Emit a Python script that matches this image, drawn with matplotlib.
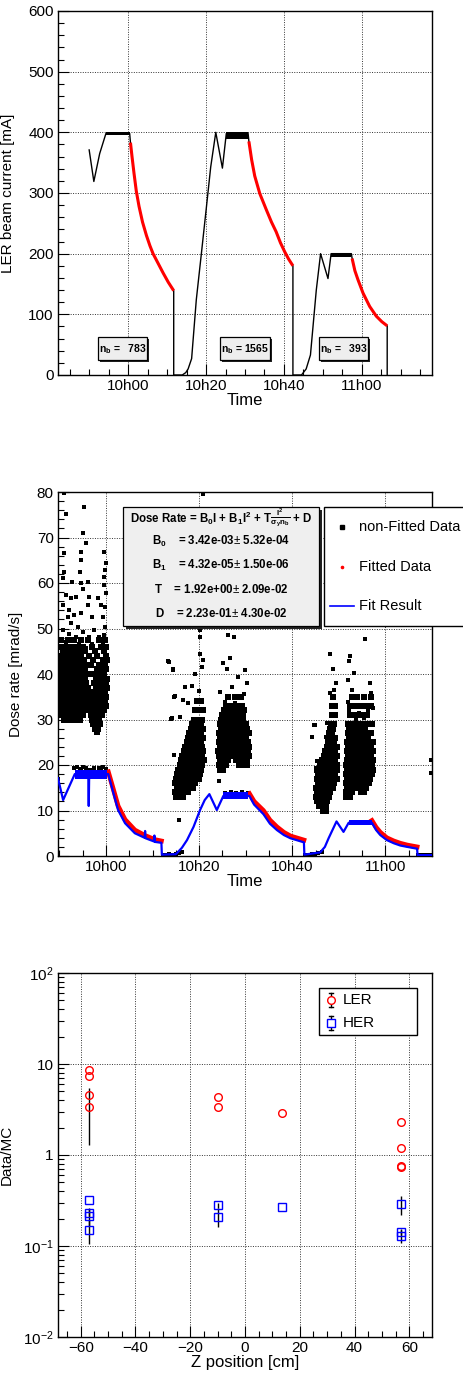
import math
import matplotlib
matplotlib.use("Agg")
import matplotlib.pyplot as plt
from matplotlib.patches import Rectangle
from matplotlib.lines import Line2D
from matplotlib.ticker import MultipleLocator, FixedLocator, LogLocator, NullFormatter, FuncFormatter

plt.rcParams['font.family'] = ['Liberation Sans', 'DejaVu Sans']
plt.rcParams['mathtext.fontset'] = 'custom'
plt.rcParams['mathtext.rm'] = 'Liberation Sans'
plt.rcParams['mathtext.it'] = 'Liberation Sans:italic'
plt.rcParams['mathtext.bf'] = 'Liberation Sans:bold'

W, H = 464, 1375

# time axis: minutes after 10h00
time_ticks = [0, 20, 40, 60]
time_labels = ['10h00', '10h20', '10h40', '11h00']

# ---- panel 1 : LER beam current [mA] ----
rise1_t = [-10.0, -8.8, -7.3, -5.7, 0.4]
rise1_i = [371, 319, 365, 398, 398]
dec1_t = [0.6, 1.0, 1.5, 2.1, 2.8, 3.7, 4.7, 5.6, 6.4, 7.7, 9.0, 10.3, 11.7]
dec1_i = [383, 360, 333, 303, 278, 252, 230, 213, 200, 184, 168, 153, 139]
rise2_t = [11.7, 13.9, 14.8, 15.4, 16.3, 17.5, 18.8, 20.1, 21.2, 22.5, 24.2, 25.2, 30.8]
rise2_i = [0, 0, 4, 10, 27, 124, 200, 277, 343, 400, 341, 398, 398]
dec2_t = [31.0, 31.7, 32.5, 33.8, 35.5, 36.8, 38.0, 39.1, 40.2, 41.2, 42.3]
dec2_i = [385, 355, 328, 299, 272, 252, 236, 218, 203, 191, 180]
rise3_t = [42.3, 44.5, 45.7, 46.8, 48.3, 49.4, 51.3, 52.1, 57.3]
rise3_i = [0, 0, 10, 33, 140, 200, 159, 200, 200]
dec3_t = [57.5, 58.2, 59.0, 60.3, 62.0, 63.7, 65.1, 66.5]
dec3_i = [192, 172, 157, 135, 113, 97, 88, 81]
end_t = [66.5, 66.5]
end_i = [81, 0]
# injection plateaus (noise band low / high)
plateau_t0 = [-5.7, 25.2, 52.1]
plateau_t1 = [0.4, 30.8, 57.3]
plateau_lo = [395, 389, 194]
plateau_hi = [400, 400, 200]
nb_labels = ['783', '1565', '393']

# ---- panel 2 : dose rate [mrad/s] ----
fit_t = [-10.3, -9.2, -6.7, -3.8, -3.7, -3.6, 0.5, 1.6, 2.6, 4.1, 6.2, 8.3, 8.4, 8.5,
         10.3, 10.4, 10.5, 11.9, 12.0, 15.0, 15.2, 16.3, 17.4, 18.8, 20.2, 21.2, 22.2,
         23.8, 25.2, 30.8, 31.8, 33.8, 35.2, 36.7, 38.2, 39.6, 42.5, 42.6, 46.0, 47.0,
         47.8, 49.5, 51.0, 52.1, 57.1, 58.0, 58.9, 60.3, 61.8, 63.2, 64.7, 66.8, 66.9, 70.0]
fit_v = [17.1, 12.3, 18.0, 18.0, 11.0, 18.0, 18.0, 13.8, 10.1, 7.2, 5.0, 4.0, 5.5, 3.9,
         3.2, 4.5, 3.1, 2.9, 0.3, 0.4, 0.6, 1.8, 3.5, 6.4, 10.1, 12.3, 13.6,
         10.1, 13.2, 13.2, 11.3, 9.2, 7.1, 5.7, 4.6, 3.9, 3.0, 0.3, 0.8, 2.0,
         3.9, 7.6, 5.3, 7.3, 7.3, 5.7, 4.6, 3.5, 2.8, 2.3, 2.0, 1.6, 0.2, 0.2]
fit_band_t0 = [-6.7, 25.2, 52.1]
fit_band_t1 = [0.3, 30.6, 57.1]
fit_band_lo = [16.9, 12.5, 6.8]
fit_band_hi = [18.8, 14.0, 7.9]
fitted1_t = [0.5, 1.6, 2.6, 4.1, 6.2, 8.4, 10.5, 11.9]
fitted1_v = [18.5, 14.6, 11.0, 8.0, 5.7, 4.5, 3.6, 3.3]
fitted2_t = [30.8, 31.8, 33.8, 35.2, 36.7, 38.2, 39.6, 42.5]
fitted2_v = [13.7, 12.0, 10.0, 7.9, 6.4, 5.2, 4.4, 3.5]
fitted3_t = [57.1, 58.0, 58.9, 60.3, 61.8, 63.2, 64.7, 66.8]
fitted3_v = [7.8, 6.3, 5.2, 4.0, 3.3, 2.8, 2.4, 2.0]

# sparse non-fitted points
nonfit_t = [
    -9.0, -4.7, -8.6, -5.0, -4.3, -5.3, -0.4, -9.0, -5.3, -0.1, -0.2, -5.6, -9.0, -0.4,
    -9.3, -7.2, -5.4, -3.9, -0.4, -8.6, -7.5, -6.5, -5.0, -3.6, -3.9, -1.8, -1.1, -0.1,
    -0.2, -9.3, -8.0, -8.2, -6.8, -5.4, -2.9, -0.7, -0.2, -7.5, -6.1,
    -9.3, -8.0, -6.5, -5.0, -3.6, -2.5, -1.4, -0.4, -8.6, -7.2, -5.8, -4.3, -2.9, -0.7,
    -10.3, -6.9, -6.3, -5.6, -5.0, -4.2, -3.5, -2.6, -1.5, -0.7, 0.1, -1.1, -5.3,
    12.2, 12.9, 13.6, 14.3, 15.0, 15.7, 16.3, 42.8, 43.5, 44.2, 44.9, 45.6, 46.3,
    67.0, 67.7, 68.4, 69.1, 69.8,
    20.2, 20.1, 20.2, 20.8, 20.6, 13.6, 14.3, 19.1, 17.0, 18.4, 19.9, 14.8, 16.6, 17.6,
    14.1, 15.9, 14.5, 13.4, 14.3, 14.5, 13.9, 20.8, 15.6, 24.2,
    26.3, 27.4, 25.2, 26.7, 25.9, 29.9, 30.2, 28.4, 27.0, 24.5, 29.6, 25.6, 27.8,
    25.6, 26.8, 28.0, 29.3, 30.4,
    48.7, 48.2, 49.3, 48.9, 48.1, 47.5, 44.8, 44.3, 47.2, 45.3, 45.1, 44.6, 48.8, 51.8,
    55.7, 52.3, 52.2, 53.3, 51.9, 56.6, 52.9, 57.0, 53.3, 51.9, 54.8, 57.3, 56.3, 52.2,
    54.4, 53.7, 55.5, 51.9, 51.5,
    69.7, 69.7,
]
nonfit_v = [
    79.8, 76.7, 75.2, 70.9, 68.9, 66.9, 66.9, 66.5, 65.0, 64.3, 62.9, 62.5, 62.5, 61.3,
    61.0, 60.3, 60.1, 60.3, 59.5, 57.4, 56.6, 56.9, 58.6, 57.0, 55.2, 56.6, 55.2, 57.7,
    54.8, 55.2, 54.1, 52.6, 53.0, 53.3, 52.6, 52.6, 50.4, 51.1, 50.4,
    49.7, 48.9, 48.2, 49.3, 48.2, 49.7, 48.2, 48.5, 47.1, 46.0, 46.7, 45.7, 46.7, 46.4,
    17.0, 19.3, 19.5, 19.2, 19.6, 19.4, 19.0, 19.3, 19.4, 19.6, 19.2, 18.9, 18.9,
    0.3, 0.2, 0.4, 0.3, 0.5, 0.6, 0.8, 0.2, 0.3, 0.4, 0.5, 0.6, 0.8,
    0.2, 0.2, 0.3, 0.2, 0.3,
    49.7, 48.2, 44.5, 43.0, 41.6, 42.6, 41.2, 40.0, 37.1, 37.4, 36.3, 35.1, 34.3, 33.6,
    30.3, 30.6, 22.3, 42.9, 40.9, 35.0, 30.2, 79.6, 7.9, 16.4,
    48.6, 48.2, 42.4, 43.5, 41.2, 40.9, 38.0, 39.4, 37.1, 36.0, 35.6, 33.9, 33.6,
    13.9, 14.0, 13.8, 14.0, 13.9,
    41.2, 44.3, 38.0, 36.5, 35.8, 29.2, 28.8, 26.1, 26.2, 20.8, 19.4, 28.8, 41.0, 12.7,
    47.7, 44.0, 42.9, 40.2, 38.7, 38.0, 36.5, 35.8, 34.7, 33.9, 33.2, 32.5, 31.8, 31.8,
    31.4, 29.9, 30.3, 12.8, 15.0,
    21.0, 18.2,
]

# dense non-fitted regions, read row by row (dose value, times of the points on that row)
run1_rows_v = [47.5, 46.0, 45.0, 44.0, 43.0, 42.0, 41.0, 40.0, 39.0, 38.0, 37.0, 36.0,
               35.0, 34.0, 33.0, 32.0, 31.0, 30.0, 29.0, 28.0, 27.3]
run1_rows_t = [
    [-9.6, -8.2, -6.9, -5.3, -3.8, -1.5, -0.2],
    [-9.9, -8.9, -7.6, -6.2, -4.9, -3.1, -1.0, 0.1],
    [-9.3, -8.4, -7.1, -5.8, -4.4, -2.4, -0.5],
    [-9.7, -8.8, -7.8, -6.5, -5.4, -3.6, -1.9, -0.1],
    [-10.0, -9.1, -8.2, -7.3, -6.0, -4.8, -2.8, -0.7, 0.2],
    [-9.5, -8.6, -7.7, -6.7, -5.6, -4.2, -3.3, -1.4, -0.3],
    [-9.9, -9.0, -8.1, -7.2, -6.3, -5.3, -4.5, -2.0, -0.8, 0.1],
    [-10.1, -9.3, -8.5, -7.6, -6.8, -5.9, -4.9, -3.9, -2.6, -1.2, -0.4],
    [-9.8, -8.9, -8.1, -7.3, -6.4, -5.5, -4.6, -2.2, -1.5, -0.6, 0.2],
    [-10.1, -9.4, -8.5, -7.7, -6.8, -6.0, -5.1, -4.3, -2.5, -1.8, -0.9, -0.1],
    [-9.8, -9.0, -8.2, -7.3, -6.5, -5.6, -4.8, -3.9, -2.2, -1.4, -0.5, 0.2],
    [-10.0, -9.3, -8.5, -7.7, -6.9, -6.1, -5.2, -4.4, -3.4, -2.6, -1.9, -1.0, -0.2],
    [-9.7, -8.9, -8.1, -7.4, -6.5, -5.7, -4.9, -4.0, -3.0, -2.3, -1.5, -0.6, 0.1],
    [-10.1, -9.4, -8.6, -7.8, -7.0, -6.2, -5.3, -4.5, -3.6, -2.7, -1.9, -1.1, -0.3],
    [-9.8, -9.0, -8.2, -7.5, -6.6, -5.8, -5.0, -4.1, -3.2, -2.4, -1.6, -0.7, 0.0],
    [-9.6, -8.7, -7.9, -7.1, -6.3, -5.4, -4.6, -3.6, -2.8, -2.0, -1.2, -0.4],
    [-9.4, -8.5, -7.6, -6.8, -5.9, -5.0, -3.3, -2.6, -1.8, -0.9],
    [-9.1, -8.2, -7.3, -6.5, -5.6, -3.0, -2.2, -1.4],
    [-2.7, -2.0, -1.3],
    [-2.3, -1.7],
    [-1.9],
]
run2a_rows_v = [13, 14, 15, 16, 17, 18, 19, 20, 21, 22, 23, 24, 25, 26, 27, 28, 29, 30, 32, 34]
run2a_rows_t = [
    [15.0, 15.8, 16.5],
    [14.9, 15.6, 16.3, 17.0, 17.7],
    [15.2, 15.9, 16.6, 17.3, 18.0, 18.7],
    [14.9, 15.6, 16.3, 17.0, 17.7, 18.4, 19.1],
    [15.1, 15.8, 16.5, 17.2, 17.9, 18.6, 19.3, 20.0],
    [15.3, 16.0, 16.7, 17.4, 18.1, 18.8, 19.5, 20.2],
    [15.5, 16.2, 16.9, 17.6, 18.3, 19.0, 19.7, 20.4],
    [15.8, 16.5, 17.2, 17.9, 18.6, 19.3, 20.0, 20.7],
    [16.1, 16.8, 17.5, 18.2, 18.9, 19.6, 20.3, 21.0],
    [16.4, 17.1, 17.8, 18.5, 19.2, 19.9, 20.6],
    [16.7, 17.4, 18.1, 18.8, 19.5, 20.2, 20.9],
    [17.0, 17.8, 18.5, 19.3, 20.0, 20.7],
    [17.3, 18.1, 18.9, 19.6, 20.4],
    [17.6, 18.4, 19.2, 20.0, 20.8],
    [17.9, 18.8, 19.6, 20.5],
    [18.2, 19.1, 20.0, 20.8],
    [18.5, 19.4, 20.3],
    [18.8, 19.7, 20.6],
    [19.2, 20.1, 20.9],
    [19.5, 20.4],
]
run2b_rows_v = [19, 20, 21, 22, 23, 24, 25, 26, 27, 28, 29, 30, 31, 32, 33, 35]
run2b_rows_t = [
    [24.4, 25.2],
    [24.2, 25.0, 25.8, 28.6, 29.4, 30.2],
    [24.5, 25.3, 26.1, 27.9, 28.7, 29.5, 30.3],
    [24.3, 25.1, 25.9, 26.7, 27.5, 28.3, 29.1, 29.9, 30.7],
    [24.1, 24.9, 25.7, 26.5, 27.3, 28.1, 28.9, 29.7, 30.5],
    [24.4, 25.2, 26.0, 26.8, 27.6, 28.4, 29.2, 30.0, 30.8],
    [24.2, 25.0, 25.8, 26.6, 27.4, 28.2, 29.0, 29.8, 30.6],
    [24.5, 25.3, 26.1, 26.9, 27.7, 28.5, 29.3, 30.1],
    [24.3, 25.1, 25.9, 26.7, 27.5, 28.3, 29.1, 29.9, 30.7],
    [24.6, 25.4, 26.2, 27.0, 27.8, 28.6, 29.4, 30.2],
    [24.4, 25.2, 26.0, 26.8, 27.6, 28.4, 29.2, 30.0],
    [24.7, 25.5, 26.3, 27.1, 27.9, 28.7, 29.5],
    [25.0, 25.9, 26.8, 27.7, 28.6, 29.4],
    [25.4, 26.4, 27.5, 28.5, 29.6],
    [25.8, 27.0, 28.2, 29.2],
    [26.2, 27.6, 28.9],
]
run3a_rows_v = [10, 11, 12, 13, 14, 15, 16, 17, 18, 19, 20, 21, 22, 23, 24, 25, 26, 27, 28,
                29, 31, 33, 35]
run3a_rows_t = [
    [46.6, 47.2],
    [45.8, 46.5, 47.2],
    [45.3, 46.0, 46.7, 47.4],
    [45.1, 45.8, 46.5, 47.2, 47.9],
    [45.4, 46.1, 46.8, 47.5, 48.2],
    [45.2, 45.9, 46.6, 47.3, 48.0, 48.7],
    [45.5, 46.2, 46.9, 47.6, 48.3, 49.0],
    [45.3, 46.0, 46.7, 47.4, 48.1, 48.8, 49.5],
    [45.6, 46.3, 47.0, 47.7, 48.4, 49.1],
    [45.4, 46.1, 46.8, 47.5, 48.2, 48.9, 49.6],
    [46.0, 46.7, 47.4, 48.1, 48.8, 49.5],
    [46.4, 47.1, 47.8, 48.5, 49.2],
    [46.8, 47.5, 48.2, 48.9, 49.6],
    [47.1, 47.8, 48.5, 49.2],
    [47.4, 48.1, 48.8, 49.5],
    [47.6, 48.3, 49.0],
    [47.8, 48.5, 49.2],
    [47.9, 48.6],
    [48.1, 48.8],
    [48.3, 49.0],
    [48.5, 49.1],
    [48.6, 49.2],
    [48.7],
]
run3b_rows_v = [13, 14, 15, 16, 17, 18, 19, 20, 21, 22, 23, 24, 25, 26, 27, 28, 29, 31, 33, 35]
run3b_rows_t = [
    [51.6, 52.3],
    [51.5, 52.2, 52.9, 54.8, 55.5],
    [51.7, 52.4, 53.1, 53.8, 54.5, 55.2, 55.9],
    [51.6, 52.3, 53.0, 53.7, 54.4, 55.1, 55.8, 56.5],
    [51.8, 52.5, 53.2, 53.9, 54.6, 55.3, 56.0, 56.7],
    [51.5, 52.2, 52.9, 53.6, 54.3, 55.0, 55.7, 56.4, 57.1],
    [51.7, 52.4, 53.1, 53.8, 54.5, 55.2, 55.9, 56.6, 57.3],
    [51.6, 52.3, 53.0, 53.7, 54.4, 55.1, 55.8, 56.5, 57.2],
    [51.8, 52.5, 53.2, 53.9, 54.6, 55.3, 56.0, 56.7, 57.4],
    [51.9, 52.6, 53.3, 54.0, 54.7, 55.4, 56.1, 56.8],
    [51.7, 52.4, 53.1, 53.8, 54.5, 55.2, 55.9, 56.6, 57.3],
    [52.0, 52.7, 53.4, 54.1, 54.8, 55.5, 56.2, 56.9],
    [51.8, 52.5, 53.2, 53.9, 54.6, 55.3, 56.0, 56.7, 57.4],
    [52.1, 52.8, 53.5, 54.2, 54.9, 55.6, 56.3],
    [51.9, 52.6, 53.3, 54.0, 54.7, 55.4, 56.1, 56.8],
    [52.2, 52.9, 53.6, 54.3, 55.0, 55.7],
    [52.0, 52.8, 53.6, 54.4, 55.2, 56.0, 57.2],
    [52.3, 53.2, 54.1, 55.0, 56.0],
    [52.5, 53.5, 54.6, 55.8, 57.0],
    [52.8, 54.0, 55.3, 56.9],
]

fit_title = ('Dose Rate = B$\\mathbf{_0}$I + B$\\mathbf{_1}$I$\\mathbf{^2}$ + '
             'T$\\mathbf{\\frac{I^2}{\\sigma_y n_b}}$ + D')
fit_lines = ['B$\\mathbf{_0}$    = 3.42e-03$\\pm$ 5.32e-04',
             'B$\\mathbf{_1}$    = 4.32e-05$\\pm$ 1.50e-06',
             'T    = 1.92e+00$\\pm$ 2.09e-02',
             'D    = 2.23e-01$\\pm$ 4.30e-02']

# ---- panel 3 : Data/MC vs Z ----
ler_z = [-56.8, -56.8, -56.8, -56.8, -9.8, -9.8, 13.6, 56.9, 56.9, 56.9, 56.9]
ler_ratio = [8.6, 7.3, 4.6, 3.4, 4.3, 3.4, 2.9, 2.3, 1.2, 0.76, 0.74]
ler_err = [0, 0, 0, 2.1, 0, 0, 0, 0, 0, 0, 0]
her_z = [-56.8, -56.8, -56.8, -56.8, -9.8, -9.8, 13.6, 56.9, 56.9, 56.9]
her_ratio = [0.32, 0.232, 0.214, 0.15, 0.28, 0.21, 0.266, 0.287, 0.143, 0.129]
her_err = [0, 0.02, 0.05, 0.045, 0.02, 0.05, 0, 0.07, 0.01, 0.02]


def fx(px):
    return px / W


def fy(py):
    return 1 - py / H


def style_axes(ax):
    for s in ax.spines.values():
        s.set_linewidth(1.0)
    ax.tick_params(which='both', direction='in', top=False, right=False, labelsize=11, pad=3)
    ax.tick_params(which='major', length=8, width=0.8)
    ax.tick_params(which='minor', length=4, width=0.8)
    ax.grid(which='major', linestyle=(0, (1, 1.5)), color='#333333', linewidth=0.7)
    ax.set_axisbelow(True)


def time_axis(ax, lo, hi):
    ax.set_xlim(lo, hi)
    ax.xaxis.set_major_locator(FixedLocator(time_ticks))
    ax.set_xticklabels(time_labels)
    ax.xaxis.set_minor_locator(MultipleLocator(5))
    ax.set_xlabel('Time', fontsize=12, labelpad=0)


def shadow_box(ax, x0, y0, x1, y1, dx, dy, face):
    ax.add_patch(Rectangle((x0 + dx, y0 - dy), x1 - x0, y1 - y0, transform=ax.transAxes,
                           facecolor='#222222', edgecolor='none', zorder=6, clip_on=False))
    ax.add_patch(Rectangle((x0, y0), x1 - x0, y1 - y0, transform=ax.transAxes,
                           facecolor=face, edgecolor='black', linewidth=0.9, zorder=7, clip_on=False))


def expand(rows_v, rows_t):
    tt, vv = [], []
    for v, ts in zip(rows_v, rows_t):
        tt += ts
        vv += [v] * len(ts)
    return tt, vv


fig = plt.figure(figsize=(W / 100, H / 100), dpi=100)
ax_w = 374 / W

# ================= panel 1 =================
ax1 = fig.add_axes([fx(58), fy(375), ax_w, 364 / H])
style_axes(ax1)
line_t = rise1_t + dec1_t + rise2_t + dec2_t + rise3_t + dec3_t + end_t
line_i = rise1_i + dec1_i + rise2_i + dec2_i + rise3_i + dec3_i + end_i
ax1.plot(line_t, line_i, color='black', lw=1.0, zorder=3)
for t0, t1, lo, hi in zip(plateau_t0, plateau_t1, plateau_lo, plateau_hi):
    ax1.fill_between([t0, t1], [lo, lo], [hi, hi], color='black', lw=0, zorder=3)
for dt, di in [(dec1_t, dec1_i), (dec2_t, dec2_i), (dec3_t, dec3_i)]:
    ax1.plot(dt, di, color='red', lw=2.2, zorder=4, solid_capstyle='butt')
ax1.set_ylim(0, 600)
ax1.yaxis.set_major_locator(MultipleLocator(100))
ax1.yaxis.set_minor_locator(MultipleLocator(20))
time_axis(ax1, -18, 78)
ax1.set_ylabel('LER beam current [mA]', fontsize=11)
ax1.yaxis.set_label_coords(-0.115, 0.5)

nb_boxes = [(0.107, 0.238), (0.433, 0.567), (0.698, 0.829)]
for (x0, x1), nb in zip(nb_boxes, nb_labels):
    shadow_box(ax1, x0, 0.041, x1, 0.104, 0.006, 0.006, '#eeeeee')
    ax1.text((x0 + x1) / 2, 0.072, 'n$\\mathbf{_b}$ = ' + ('  ' if len(nb) == 3 else '') + nb,
             transform=ax1.transAxes, ha='center', va='center', fontsize=7.5,
             fontweight='bold', zorder=8)

# ================= panel 2 =================
ax2 = fig.add_axes([fx(58), fy(856), ax_w, 364 / H])
style_axes(ax2)
ax2.scatter(nonfit_t, nonfit_v, marker='s', s=11, color='black', linewidths=0, zorder=3)
for rv, rt in [(run1_rows_v, run1_rows_t), (run2a_rows_v, run2a_rows_t),
               (run2b_rows_v, run2b_rows_t), (run3a_rows_v, run3a_rows_t),
               (run3b_rows_v, run3b_rows_t)]:
    et, ev = expand(rv, rt)
    ax2.scatter(et, ev, marker='s', s=15, color='black', linewidths=0, zorder=3)
for ft, fv in [(fitted1_t, fitted1_v), (fitted2_t, fitted2_v), (fitted3_t, fitted3_v)]:
    ax2.plot(ft, fv, color='red', lw=3.4, zorder=4)
for t0, t1, lo, hi in zip(fit_band_t0, fit_band_t1, fit_band_lo, fit_band_hi):
    ax2.fill_between([t0, t1], [lo, lo], [hi, hi], color='blue', lw=0, zorder=5)
ax2.plot(fit_t, fit_v, color='blue', lw=1.6, zorder=5)
ax2.set_ylim(0, 80)
ax2.yaxis.set_major_locator(MultipleLocator(10))
ax2.yaxis.set_minor_locator(MultipleLocator(2))
time_axis(ax2, -10.3, 70)
ax2.set_ylabel('Dose rate [mrad/s]', fontsize=11)
ax2.yaxis.set_label_coords(-0.094, 0.5)

# fit parameter box
shadow_box(ax2, 0.174, 0.632, 0.698, 0.959, 0.007, 0.008, '#efefef')
ax2.text(0.436, 0.929, fit_title, transform=ax2.transAxes, ha='center', va='center',
         fontsize=8.3, fontweight='bold', zorder=8)
for yy, s in zip([0.865, 0.799, 0.731, 0.665], fit_lines):
    ax2.text(0.436, yy, s, transform=ax2.transAxes, ha='center', va='center', fontsize=8.3,
             fontweight='bold', zorder=8)

# legend (runs past the right edge of the picture)
fig.add_artist(Rectangle((fx(324), fy(626)), fx(470) - fx(324), fy(507) - fy(626),
                         transform=fig.transFigure, facecolor='white', edgecolor='black',
                         linewidth=1.0, zorder=9))
fig.add_artist(Line2D([fx(342)], [fy(527)], marker='s', markersize=3.2, color='black',
                      linestyle='none', transform=fig.transFigure, zorder=10))
fig.add_artist(Line2D([fx(342)], [fy(567)], marker='o', markersize=1.6, color='red',
                      linestyle='none', transform=fig.transFigure, zorder=10))
fig.add_artist(Line2D([fx(330), fx(354)], [fy(606), fy(606)], color='blue', lw=1.2,
                      transform=fig.transFigure, zorder=10))
for yy, s in zip([527, 567, 606], ['non-Fitted Data', 'Fitted Data', 'Fit Result']):
    fig.text(fx(359), fy(yy), s, fontsize=10.5, ha='left', va='center', zorder=10)

# ================= panel 3 =================
ax3 = fig.add_axes([fx(58), fy(1337), ax_w, 364 / H])
style_axes(ax3)
ax3.set_yscale('log')
ax3.errorbar(ler_z, ler_ratio, yerr=ler_err, fmt='o', mfc='none', mec='red', mew=1.0,
             ms=5.5, ecolor='black', elinewidth=1.0, capsize=0, zorder=4)
ax3.errorbar(her_z, her_ratio, yerr=her_err, fmt='s', mfc='none', mec='blue', mew=1.0,
             ms=5.5, ecolor='black', elinewidth=1.0, capsize=0, zorder=4)
ax3.set_xlim(-68.3, 68.3)
ax3.set_ylim(1e-2, 1e2)
ax3.xaxis.set_major_locator(MultipleLocator(20))
ax3.xaxis.set_minor_locator(MultipleLocator(5))
ax3.yaxis.set_major_locator(LogLocator(base=10, numticks=10))
ax3.yaxis.set_minor_locator(LogLocator(base=10, subs=[2, 3, 4, 5, 6, 7, 8, 9], numticks=10))
ax3.yaxis.set_minor_formatter(NullFormatter())


def log_label(v, pos):
    if abs(v - 1) < 1e-9:
        return '1'
    if abs(v - 10) < 1e-9:
        return '10'
    return '$\\mathregular{10^{%d}}$' % int(round(math.log10(v)))


ax3.yaxis.set_major_formatter(FuncFormatter(log_label))
ax3.set_xlabel('Z position [cm]', fontsize=12, labelpad=0)
ax3.set_ylabel('Data/MC', fontsize=11)
ax3.yaxis.set_label_coords(-0.118, 0.5)

fig.add_artist(Rectangle((fx(319), fy(1035)), fx(417) - fx(319), fy(987.7) - fy(1035),
                         transform=fig.transFigure, facecolor='white', edgecolor='black',
                         linewidth=1.0, zorder=9))
for yy, mk, col, s in [(1000, 'o', 'red', 'LER'), (1023, 's', 'blue', 'HER')]:
    fig.add_artist(Line2D([fx(331), fx(331)], [fy(yy - 7), fy(yy + 7)], color='black', lw=1.0,
                          transform=fig.transFigure, zorder=10))
    for cap in (yy - 7, yy + 7):
        fig.add_artist(Line2D([fx(329), fx(333)], [fy(cap), fy(cap)], color='black', lw=1.0,
                              transform=fig.transFigure, zorder=10))
    fig.add_artist(Line2D([fx(331)], [fy(yy)], marker=mk, markersize=5.5, mfc='white',
                          mec=col, mew=1.0, linestyle='none', transform=fig.transFigure,
                          zorder=11))
    fig.text(fx(343), fy(yy), s, fontsize=11, ha='left', va='center', zorder=10)

fig.savefig('out.png', dpi=100)
